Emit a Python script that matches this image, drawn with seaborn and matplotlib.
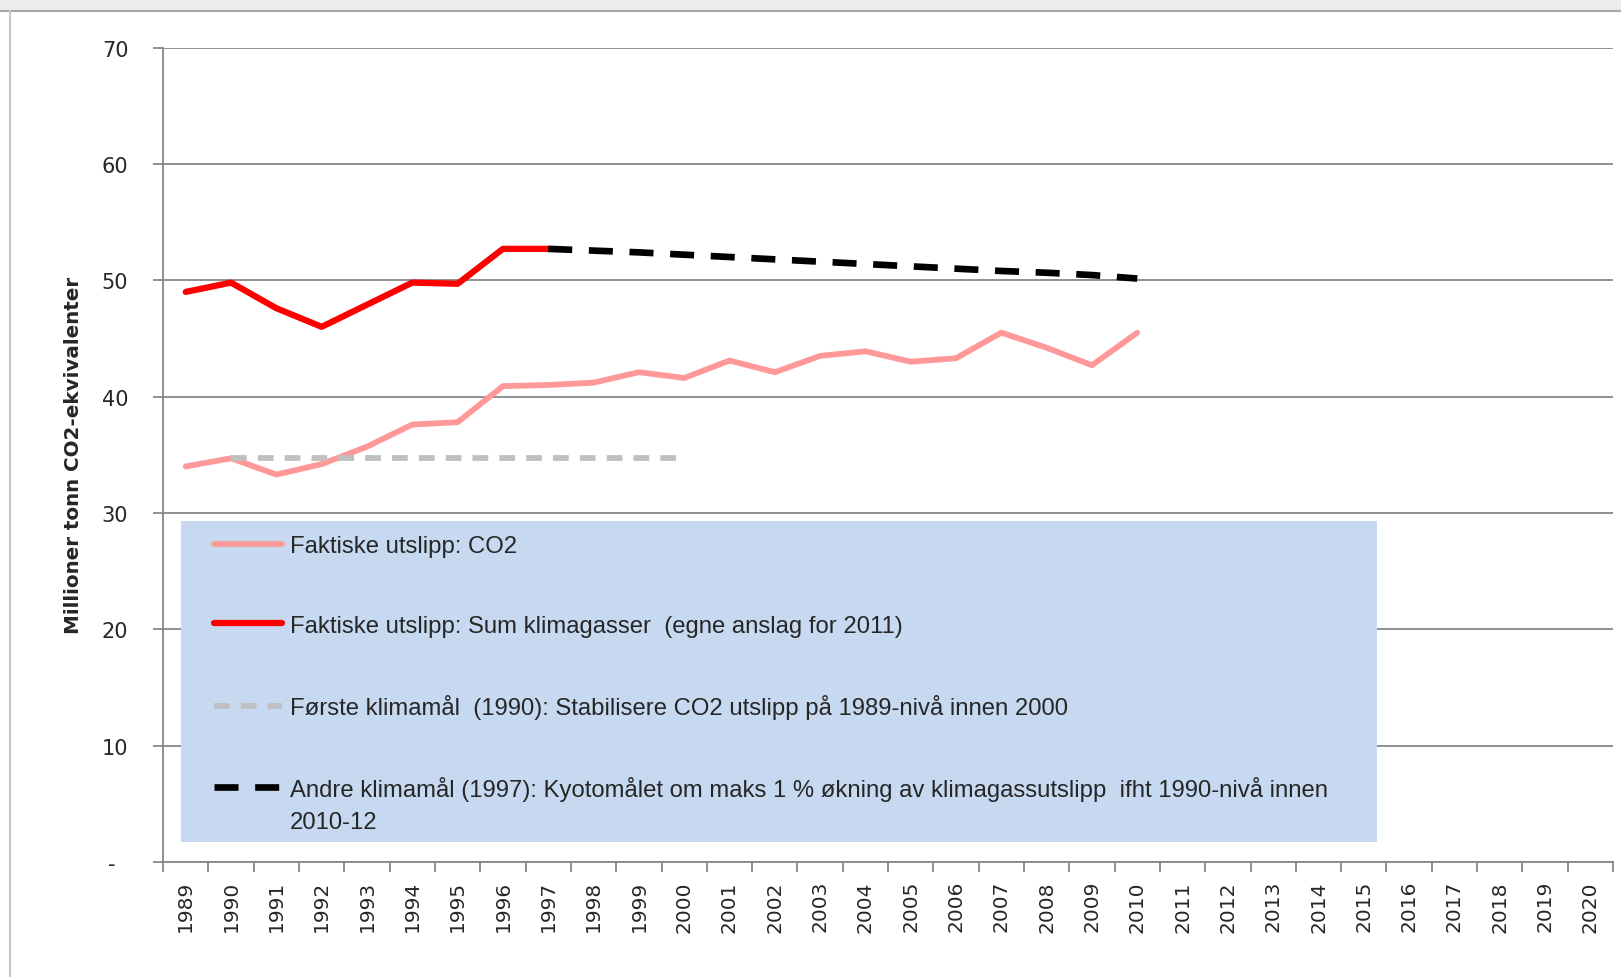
import matplotlib
matplotlib.use("Agg")
import matplotlib.pyplot as plt
from matplotlib.patches import Rectangle
from matplotlib.lines import Line2D
from matplotlib.ticker import FuncFormatter
from matplotlib.legend_handler import HandlerLine2D
import seaborn as sns

# Data
year_labels = [str(y) for y in range(1989, 2021)]

co2_years = list(range(1989, 2011))
co2_values = [34.0, 34.7, 33.3, 34.2, 35.7, 37.6, 37.8, 40.9, 41.0, 41.2, 42.1, 41.6,
              43.1, 42.1, 43.5, 43.9, 43.0, 43.3, 45.5, 44.2, 42.7, 45.5]

sum_years = list(range(1989, 1998))
sum_values = [49.0, 49.8, 47.6, 46.0, 47.9, 49.8, 49.7, 52.7, 52.7]

first_goal_years = list(range(1990, 2001))
first_goal_values = [34.7, 34.7, 34.7, 34.7, 34.7, 34.7, 34.7, 34.7, 34.7, 34.7, 34.7]

kyoto_years = list(range(1997, 2011))
kyoto_values = [52.7, 52.55, 52.4, 52.2, 52.0, 51.8, 51.6, 51.4, 51.2, 51.0, 50.8,
                50.65, 50.45, 50.15]

labels = [
    "Faktiske utslipp: CO2",
    "Faktiske utslipp: Sum klimagasser  (egne anslag for 2011)",
    "Første klimamål  (1990): Stabilisere CO2 utslipp på 1989-nivå innen 2000",
    "Andre klimamål (1997): Kyotomålet om maks 1 % økning av klimagassutslipp  ifht 1990-nivå innen\n2010-12",
]


class RaisedLine(HandlerLine2D):
    """Legend handle lifted to the first line of a two-line label."""

    def __init__(self, shift, **kw):
        super().__init__(**kw)
        self.shift = shift

    def create_artists(self, legend, orig_handle, xdescent, ydescent, width, height,
                       fontsize, trans):
        return super().create_artists(legend, orig_handle, xdescent,
                                      ydescent - 2 * self.shift, width, height,
                                      fontsize, trans)


sns.set_theme(style="white")
plt.rcParams["font.family"] = ["DejaVu Sans"]

GRID = "#878787"

fig = plt.figure(figsize=(16.21, 9.78), dpi=100)
ax = fig.add_axes([0.1006, 0.1176, 0.8945, 0.8327])

sns.lineplot(x=co2_years, y=co2_values, ax=ax, color="#FF9999", lw=4.2,
             solid_joinstyle="round", label=labels[0], zorder=3)
sns.lineplot(x=sum_years, y=sum_values, ax=ax, color="#FF0000", lw=4.5,
             solid_joinstyle="round", label=labels[1], zorder=4)
sns.lineplot(x=first_goal_years, y=first_goal_values, ax=ax, color="#C0C0C0", lw=4.2,
             linestyle=(0, (2.7, 1.9)), label=labels[2], zorder=3)
sns.lineplot(x=kyoto_years, y=kyoto_values, ax=ax, color="black", lw=4.8,
             linestyle=(0, (3.6, 2.5)), label=labels[3], zorder=4)

ax.set_xlim(1988.5, 2020.5)
ax.set_ylim(0, 70)
ax.set_yticks(range(0, 71, 10))
ax.yaxis.set_major_formatter(FuncFormatter(lambda v, p: "-  " if v == 0 else f"{v:.0f}"))

# category style x axis: ticks between years, labels in the middle
ax.set_xticks([y - 0.5 for y in range(1989, 2022)])
ax.set_xticks(range(1989, 2021), minor=True)
ax.set_xticklabels(year_labels, minor=True, rotation=90, fontsize=14.5)
ax.tick_params(axis="x", which="major", length=7, width=1.3, color=GRID,
               direction="out", labelbottom=False, bottom=True)
ax.tick_params(axis="x", which="minor", length=0, pad=13)
ax.tick_params(axis="y", length=7, width=1.3, color=GRID, direction="out",
               pad=18, labelsize=15, left=True)

ax.grid(axis="y", color=GRID, lw=1.3)
ax.grid(axis="x", visible=False)
ax.set_axisbelow(True)
for side in ["top", "right"]:
    ax.spines[side].set_visible(False)
for side in ["left", "bottom"]:
    ax.spines[side].set_color(GRID)
    ax.spines[side].set_linewidth(1.3)

ax.set_xlabel("")
ax.set_ylabel("Millioner tonn CO2-ekvivalenter", fontsize=14.3, fontweight="bold")
ax.yaxis.set_label_coords(-0.0552, 0.5)

# legend panel
ax.add_patch(Rectangle((0.0124, 0.0246), 0.8248, 0.394, transform=ax.transAxes,
                       facecolor="#C6D9F0", edgecolor="none", zorder=5))
handles, _ = ax.get_legend_handles_labels()
leg = ax.legend(handles=handles, labels=labels, loc="upper left",
                bbox_to_anchor=(0.0352, 0.401), frameon=False, borderpad=0,
                borderaxespad=0, handlelength=2.85, handletextpad=0.33,
                labelspacing=2.4, prop={"family": "Liberation Sans", "size": 17.2},
                handler_map={handles[3]: RaisedLine(13.0)})
for t in leg.get_texts():
    t.set_linespacing(1.55)
leg.set_zorder(6)

# outer frame of the screenshot
fig.add_artist(Rectangle((0, 1 - 12 / 978), 1, 12 / 978, transform=fig.transFigure,
                         facecolor="#ececec", edgecolor="none"))
fig.add_artist(Line2D([0, 1], [1 - 12 / 978, 1 - 12 / 978], transform=fig.transFigure,
                      color="#a6a6a6", lw=1.5))
fig.add_artist(Line2D([10 / 1621, 10 / 1621], [0, 1 - 12 / 978], transform=fig.transFigure,
                      color="#c8c8c8", lw=1.5))

fig.savefig("out.png", dpi=100, facecolor="white")
